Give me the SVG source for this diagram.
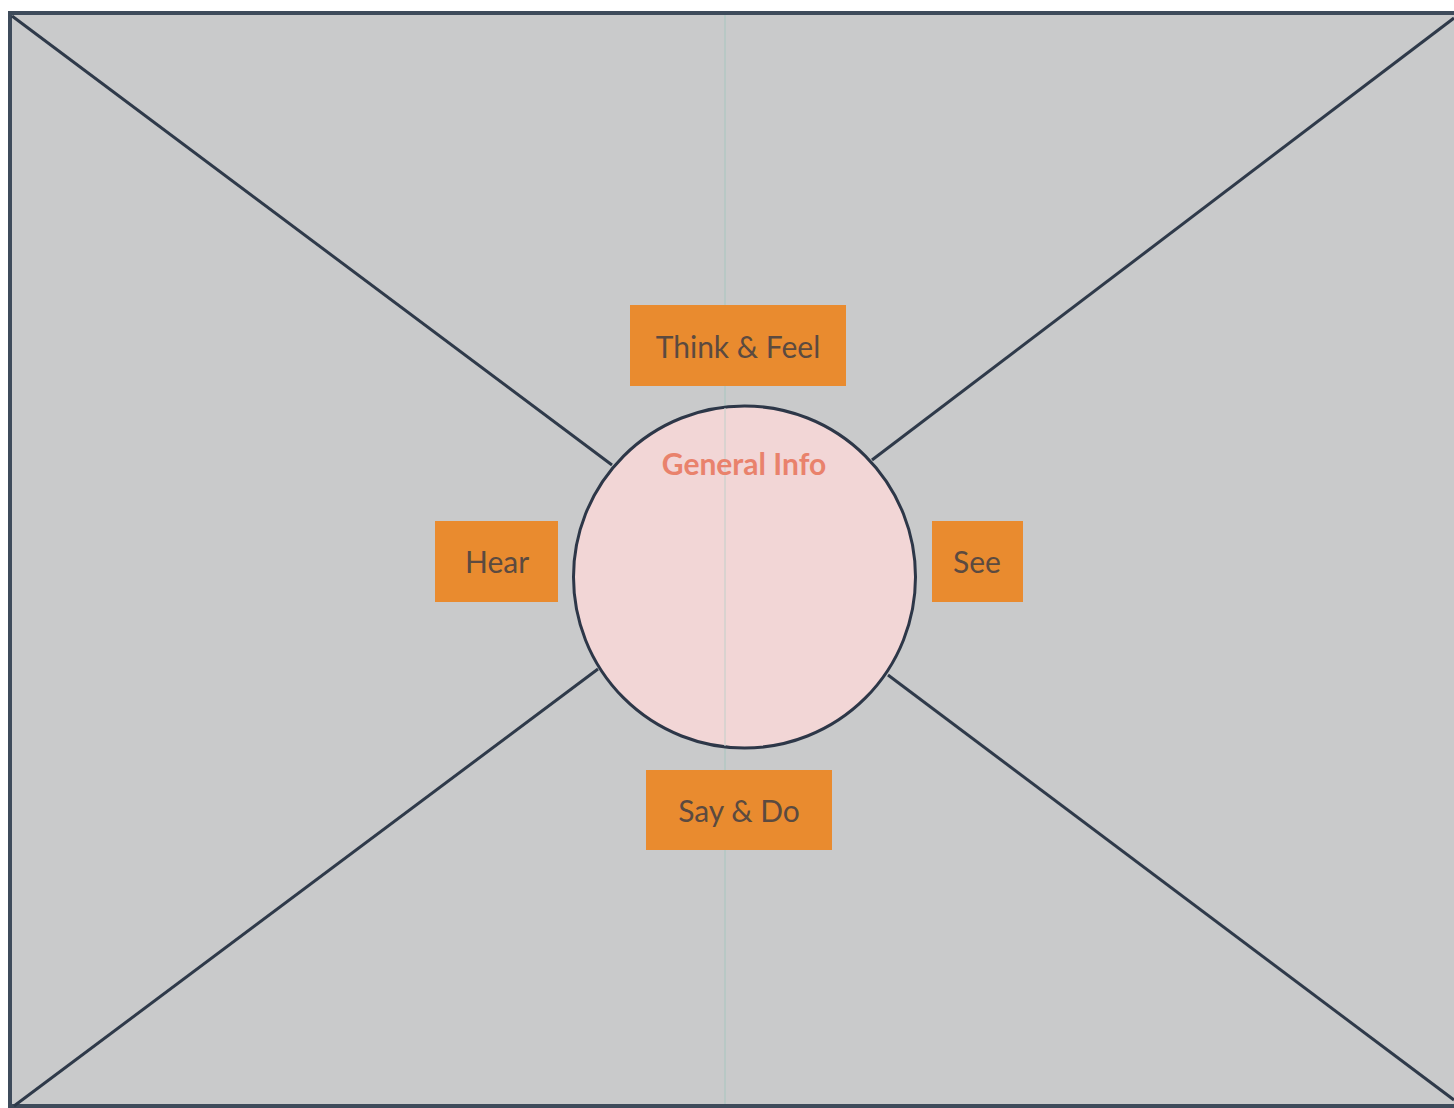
<svg xmlns="http://www.w3.org/2000/svg" width="1454" height="1108" viewBox="0 0 1454 1108">
<style>
.box{fill:#e98b2f;}
.lbl{font-family:Lato,"Open Sans",sans-serif;font-size:30px;fill:#5b4a40;text-anchor:middle;dominant-baseline:central;}
.ln{stroke:#2f3a4a;stroke-width:3;fill:none;}
</style>
<rect x="0" y="0" width="1454" height="1108" fill="#ffffff"/>
<rect x="10" y="13" width="1450" height="1093" fill="#c9cacb" stroke="#3e4b5b" stroke-width="4"/>
<line x1="725" y1="15" x2="725" y2="1104" stroke="#aec6c2" stroke-width="1.2"/>
<g id="connectors">
<line class="ln" x1="12" y1="16" x2="612" y2="465"/>
<line class="ln" x1="1454" y1="18" x2="872" y2="460"/>
<line class="ln" x1="14" y1="1106" x2="598" y2="669"/>
<line class="ln" x1="1454" y1="1100" x2="888" y2="675"/>
</g>
<g id="general-info">
<ellipse cx="744.5" cy="577" rx="171" ry="171" fill="#f2d6d6" stroke="#2d3748" stroke-width="3"/>
<line x1="725" y1="408" x2="725" y2="746" stroke="#c9d0cc" stroke-width="1.2"/>
<text x="744" y="463" font-family="Lato,'Open Sans',sans-serif" font-size="30" font-weight="bold" fill="#e9826c" text-anchor="middle" dominant-baseline="central">General Info</text>
</g>
<g id="think-feel">
<rect class="box" x="630" y="305" width="216" height="81"/>
<text class="lbl" x="738" y="346">Think &amp; Feel</text>
</g>
<g id="hear">
<rect class="box" x="435" y="521" width="123" height="81"/>
<text class="lbl" x="497" y="561">Hear</text>
</g>
<g id="see">
<rect class="box" x="932" y="521" width="91" height="81"/>
<text class="lbl" x="977" y="561">See</text>
</g>
<g id="say-do">
<rect class="box" x="646" y="770" width="186" height="80"/>
<text class="lbl" x="739" y="810">Say &amp; Do</text>
</g>
</svg>
